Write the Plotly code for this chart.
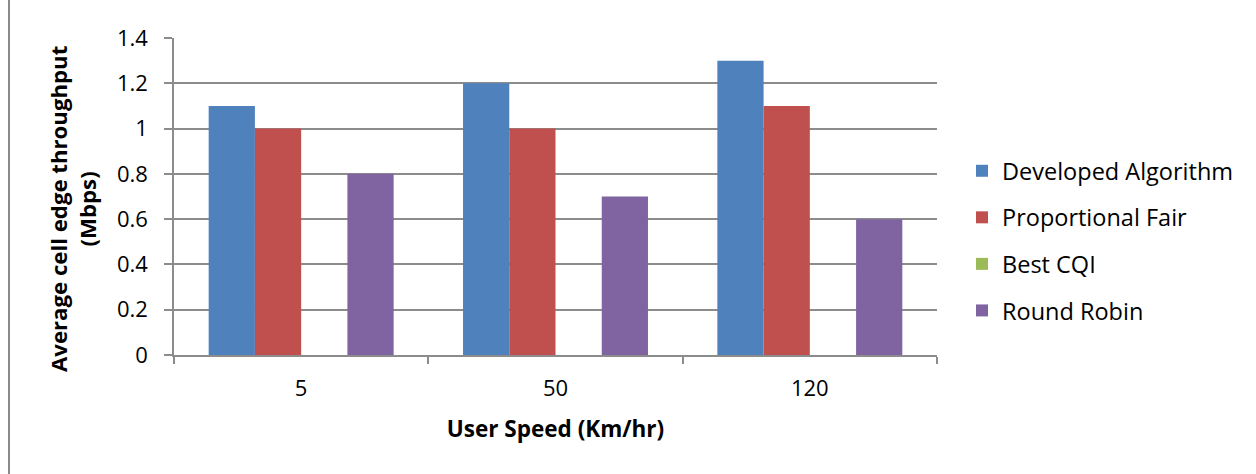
import plotly.graph_objects as go

# Chart data
speeds = ["5", "50", "120"]
developed_algorithm = [1.1, 1.2, 1.3]
proportional_fair = [1.0, 1.0, 1.1]
best_cqi = [0.0, 0.0, 0.0]
round_robin = [0.8, 0.7, 0.6]
y_ticks = [0, 0.2, 0.4, 0.6, 0.8, 1.0, 1.2, 1.4]
y_tick_text = ["0", "0.2", "0.4", "0.6", "0.8", "1", "1.2", "1.4"]

series = [
    ("Developed Algorithm", developed_algorithm, "#4F81BD"),
    ("Proportional Fair", proportional_fair, "#C0504D"),
    ("Best CQI", best_cqi, "#9BBB59"),
    ("Round Robin", round_robin, "#8064A2"),
]

FONT = "Open Sans, Liberation Sans, sans-serif"
GRID = "#8c8c8c"

fig = go.Figure()
for i, (name, vals, color) in enumerate(series):
    fig.add_trace(go.Bar(
        x=speeds, y=vals, name=name,
        marker=dict(color=color, line=dict(width=0)),
        legendgroup=f"g{i}",
    ))

W, H = 1256, 474
L, R, T, B = 174, 319, 38, 119
pw = W - L - R
ph = H - T - B

fig.update_layout(
    width=W, height=H,
    margin=dict(l=L, r=R, t=T, b=B, autoexpand=False),
    paper_bgcolor="white", plot_bgcolor="white",
    barmode="group", bargap=1.5 / 5.5, bargroupgap=0,
    font=dict(family=FONT, size=22, color="#000000"),
    legend=dict(
        x=(962 - L) / pw, y=1 - (149 - T) / ph,
        xanchor="left", yanchor="top",
        font=dict(family=FONT, size=23.5, color="#000000"),
        tracegroupgap=13, itemwidth=30,
        bgcolor="rgba(0,0,0,0)",
    ),
    xaxis=dict(
        type="category",
        showline=True, linecolor=GRID, linewidth=1.5,
        ticks="outside", tickson="boundaries", ticklen=7,
        tickcolor=GRID, tickwidth=1.5,
        showgrid=False, ticklabelstandoff=13,
        tickfont=dict(size=22),
        title=dict(text="<b>User Speed (Km/hr)</b>", font=dict(size=22.5), standoff=20),
    ),
    yaxis=dict(
        range=[0, 1.4], tickvals=y_ticks, ticktext=y_tick_text,
        showline=True, linecolor=GRID, linewidth=1.5,
        showgrid=True, gridcolor=GRID, gridwidth=1.5,
        ticks="outside", ticklen=8, tickcolor=GRID, tickwidth=1.5,
        ticklabelstandoff=12,
        tickfont=dict(size=22),
        zeroline=False,
    ),
)

# Vertical value-axis title
fig.add_annotation(
    text="<b>Average cell edge throughput<br>(Mbps)</b>",
    textangle=-90, xref="paper", yref="paper",
    x=(73 - L) / pw, y=1 - (209 - T) / ph,
    xanchor="center", yanchor="middle", showarrow=False,
    font=dict(family=FONT, size=22.2, color="#000000"),
)

# Outer chart border (top and left edges)
x_left = (9 - L) / pw
y_top = (H - T - 8.5) / ph
fig.add_shape(type="line", xref="paper", yref="paper",
              x0=x_left, x1=(W + 5 - L) / pw, y0=y_top, y1=y_top,
              line=dict(color="#8a8a8a", width=2))
fig.add_shape(type="line", xref="paper", yref="paper",
              x0=x_left, x1=x_left, y0=y_top, y1=(-B - 5) / ph,
              line=dict(color="#8a8a8a", width=2))

fig.write_html("out.html")
